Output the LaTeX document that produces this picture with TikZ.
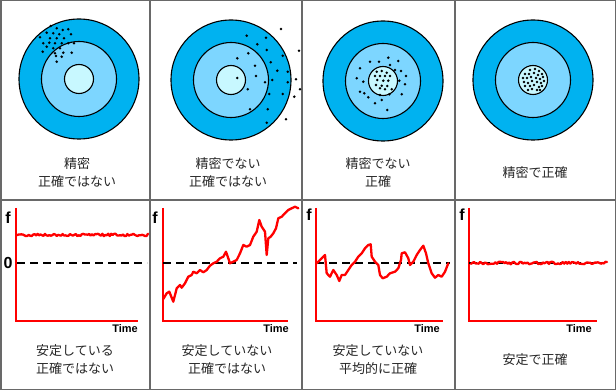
\documentclass[tikz,border=0pt]{standalone}
\usepackage{fontspec}
\newfontfamily\jp{Noto Sans CJK JP}
\newfontfamily\ar{Liberation Sans}
\definecolor{ringouter}{RGB}{0,178,240}
\definecolor{ringmid}{RGB}{125,214,255}
\definecolor{ringinner}{RGB}{200,248,255}
\definecolor{framegray}{RGB}{105,105,105}
\definecolor{tracered}{RGB}{255,0,0}
\tikzset{
  ring/.style={draw=black, line width=1.1pt},
  hit/.style={circle, fill=black, inner sep=0pt, minimum size=2.8pt},
  frame/.style={draw=framegray, line width=1.5pt},
  axis-red/.style={draw=tracered, line width=2.6pt},
  trace/.style={draw=tracered, line width=2.3pt, line join=round, line cap=round},
  zero-line/.style={draw=black, line width=1.8pt, dash pattern=on 8pt off 5pt},
  caption/.style={font=\jp\fontsize{13}{18}\selectfont, align=center, text=black!85},
  axis-label/.style={font=\ar\bfseries\fontsize{16}{16}\selectfont, inner sep=0pt},
  time-label/.style={font=\ar\bfseries\fontsize{11}{11}\selectfont, inner sep=0pt}
}
\newcommand{\bullseye}[2]{
  \draw[ring, fill=ringouter] (#1,#2) circle (60);
  \draw[ring, fill=ringmid] (#1,#2) circle (37.5);
  \draw[ring, fill=ringinner] (#1,#2) circle (14.5);
}
\newcommand{\graphaxes}[2]{
  \draw[axis-red] (#1,208) -- (#1,321) -- (#2,321);
}

\begin{document}
\begin{tikzpicture}[x=1pt, y=-1pt]
  \useasboundingbox (0,0) rectangle (616,390);
  \pgfmathsetseed{11}
  % Panel frame
  \draw[frame] (0.75,0.75) rectangle (615.25,389.25);
  \draw[frame] (0,200) -- (616,200);
  \foreach \xd in {150,302,455}
    \draw[frame] (\xd,0) -- (\xd,390);

  % Targets
  \bullseye{79}{79}
  \bullseye{231}{80}
  \bullseye{383}{81}
  \bullseye{533}{80}

  % Hits: precise, not accurate
  \foreach \hx/\hy in {50.7/26,56.7/28.3,62.7/30,68.3/29.3,71/34.3,46.7/32.7,53.3/33.3,
      59.3/34.3,40/37.3,50/38.3,56.7/38.3,64/38.3,43.3/43.3,49.3/42.7,55/43.3,61.7/43.3,
      68.3/43.3,74/43.3,46.7/46.7,53.3/48.3,60/48.3,42.7/51.7,55/53.3,63.3/52.7,71.7/52.7,
      56/56,61.7/56.7,56.7/61.7}
    \node[hit] at (\hx,\hy) {};
  % Hits: not precise, not accurate
  \foreach \hx/\hy in {281/29,246.7/35.7,266/37.7,257.3/44.3,266.7/50,299/50.7,248.3/53.3,
      237.3/58.3,282.7/55.7,270.7/62.3,255/65.7,277.3/70.7,287.7/71.7,256/76,237.3/78,
      272.3/80,265/82.3,287.7/82.3,296/79.3,300/89.3,247.7/89.3,269.3/94,282.7/94,
      294.3/96.7,250/109.3,267.7/109.3,286/119.3,266.7/122.7}
    \node[hit] at (\hx,\hy) {};
  % Hits: not precise, accurate
  \foreach \hx/\hy in {370/61.7,379/61.7,388.3/57.7,398.3/61,360/68.3,390/65,395/70,401/71,
      406/76,356.7/78.3,363.3/81.7,399.3/80.7,405/84.3,360/91.7,364.3/93.3,368.3/97.3,
      380/95,389.3/94.3,401.7/94.3,375/103.3,381.7/100,387.3/110,
      376.7/71.7,381.7/71,386.7/72.7,375/76,380/76,385/76,390/76,377.3/80,383.3/80.7,
      388.3/80.7,376/85,381.7/85.7,387.3/86,385/89.3,391.7/89.3,380/88.3}
    \node[hit] at (\hx,\hy) {};
  % Hits: precise and accurate
  \foreach \hx/\hy in {-3/-10,2/-11,6/-9,-8/-6,-4/-6,1/-7,5/-5,9/-6,-10/-2,-6/-2,-2/-3,
      3/-2,7/-1,10/-3,-9/2,-5/3,-1/1,4/2,8/3,11/1,-8/6,-3/6,1/5,6/7,9/6,-5/10,-1/9,4/10,7/10}
    \node[hit] at (533+\hx,80+\hy) {};

  % Captions, top row
  \node[caption] (top-a) at (77,172.5) {精密\\正確ではない};
  \node[caption] (top-b) at (228,172.5) {精密でない\\正確ではない};
  \node[caption] (top-c) at (378,172.5) {精密でない\\正確};
  \node[caption] (top-d) at (535,172.5) {精密で正確};

  % Graph 1: stable, offset
  \graphaxes{16}{138}
  \draw[zero-line] (17,263) -- (147,263);
  \draw[trace] plot[domain=17:148, samples=90] (\x, {235+1.3*rand});
  \node[axis-label] (f-a) at (8,218) {f};
  \node[axis-label] (zero-a) at (8,263) {0};
  \node[time-label] (time-a) at (125,329) {Time};

  % Graph 2: drifting
  \graphaxes{163}{288}
  \draw[zero-line] (163,263) -- (297,263);
  \draw[trace] (163.3,299) -- (166.7,293.3) -- (169.3,291.7) -- (173.3,301.7)
    -- (176.7,288.3) -- (180,285) -- (181.7,287.7) -- (185,283.3) -- (188.3,276.7)
    -- (191.7,275) -- (193.3,271.7) -- (196.7,273.3) -- (200,270) -- (203.3,272.3)
    -- (206.7,270) -- (210,265.7) -- (213.3,263.3) -- (216.7,261.7) -- (220,258.3)
    -- (223.3,256.7) -- (226,251.7) -- (228.3,258.3) -- (230,263.3) -- (233.3,261.7)
    -- (236.7,260) -- (240,253.3) -- (243.3,245) -- (246.7,246.7) -- (250,245)
    -- (253.3,236.7) -- (256.7,231.7) -- (259.3,220) -- (261.7,226.7) -- (265,231.7)
    -- (266.7,255) -- (268.3,238.3) -- (270.7,236.7) -- (273.3,233.3) -- (276,228.3)
    -- (278.3,218.3) -- (281.7,216.7) -- (285,213.3) -- (288.3,210) -- (291.7,208.3)
    -- (295,206.7) -- (298.3,208.3);
  \node[axis-label] (f-b) at (155,218) {f};
  \node[time-label] (time-b) at (276,329) {Time};

  % Graph 3: wandering round zero
  \graphaxes{316}{443}
  \draw[zero-line] (316,263) -- (450,263);
  \draw[trace] (316.7,263.3) -- (320,260) -- (325,255) -- (326.7,273.3) -- (330,276.7)
    -- (333.3,270) -- (336.7,275) -- (339.3,281) -- (341.7,275) -- (345,275)
    -- (348.3,270) -- (351.7,265) -- (355,261.7) -- (358.3,256.7) -- (361.7,253.3)
    -- (365,248.3) -- (368.3,245) -- (370.7,244.3) -- (371.7,256.7) -- (375,261.7)
    -- (378.3,265) -- (380,275) -- (382.7,278.3) -- (386.7,276.7) -- (390,273.3)
    -- (395,271.7) -- (398.3,268.3) -- (401,260) -- (401.7,253.3) -- (405,252.3)
    -- (408.3,258.3) -- (410,265) -- (413.3,261.7) -- (416.7,255) -- (420,250)
    -- (423.3,245.7) -- (426,253.3) -- (428.3,263.3) -- (431.7,273.3) -- (435,277.7)
    -- (438.3,275) -- (441.7,276.7) -- (445,271.7) -- (448.3,263.3);
  \node[axis-label] (f-c) at (309,215) {f};
  \node[time-label] (time-c) at (427,329) {Time};

  % Graph 4: stable, accurate
  \graphaxes{469}{597}
  \draw[zero-line] (469,263) -- (605,263);
  \draw[trace] plot[domain=471:607, samples=90] (\x, {263+1.3*rand});
  \node[axis-label] (f-d) at (462,215) {f};
  \node[time-label] (time-d) at (579,329) {Time};

  % Captions, bottom row
  \node[caption] (bot-a) at (75,359.5) {安定している\\正確ではない};
  \node[caption] (bot-b) at (227,359.5) {安定していない\\正確ではない};
  \node[caption] (bot-c) at (378,359.5) {安定していない\\平均的に正確};
  \node[caption] (bot-d) at (535,360) {安定で正確};
\end{tikzpicture}
\end{document}
